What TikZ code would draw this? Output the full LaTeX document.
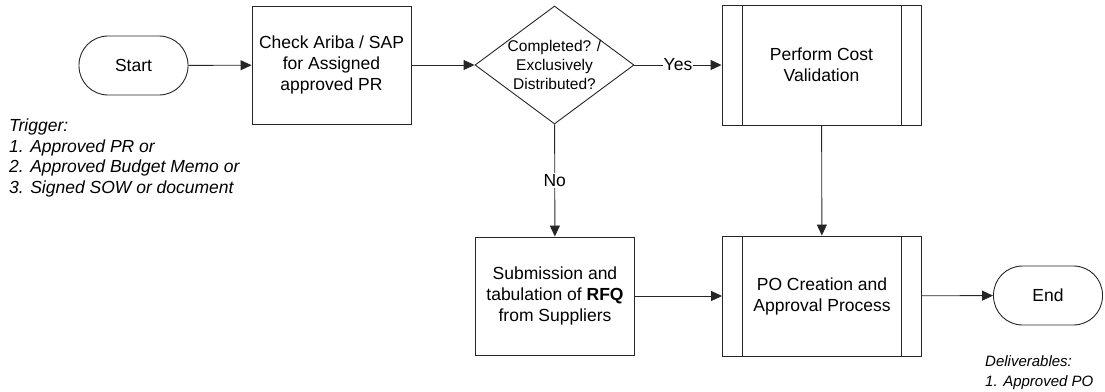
\documentclass[tikz,border=0pt]{standalone}
\usepackage{fontspec}
\setmainfont{Liberation Sans}
\usetikzlibrary{shapes.geometric,arrows.meta}

\begin{document}
\begin{tikzpicture}[x=1pt,y=-1pt,
  line/.style={draw=black!85,line width=0.9pt},
  arr/.style={line,-{Triangle[length=11pt,width=10pt]}},
  txt/.style={font=\fontsize{17.5}{21}\selectfont,align=center,text=black},
  terminal/.style={line,txt,rectangle,rounded corners=29pt,minimum width=109pt,minimum height=59pt,inner sep=0pt},
  procbox/.style={line,txt,rectangle,minimum width=159pt,minimum height=118pt,inner sep=0pt},
  predef/.style={procbox,minimum width=199pt,minimum height=120pt,
    path picture={\draw[black!85,line width=0.9pt]
      ([xshift=20pt]path picture bounding box.north west) -- ([xshift=20pt]path picture bounding box.south west)
      ([xshift=-20pt]path picture bounding box.north east) -- ([xshift=-20pt]path picture bounding box.south east);}},
  decision/.style={line,diamond,minimum width=159pt,minimum height=118pt,inner sep=0pt},
  dectext/.style={font=\fontsize{15.5}{18.7}\selectfont,align=center,text=black,inner sep=0pt},
  lbl/.style={txt,fill=white,inner sep=1pt},
  note/.style={font=\fontsize{17.5}{20.5}\selectfont\itshape,align=left,inner sep=0pt,anchor=north west},
  smallnote/.style={font=\fontsize{15}{20}\selectfont\itshape,align=left,inner sep=0pt,anchor=north west}
]
\useasboundingbox (0,0) rectangle (1105,391);

% process steps
\node[terminal] (start) at (133.5,65.5) {Start};
\node[procbox] (check) at (331.5,65) {Check Ariba / SAP\\for Assigned\\approved PR};
\node[decision,label={[dectext]center:Completed? /\\Exclusively\\Distributed?}] (dec) at (554.5,65) {};
\node[predef] (perf) at (821.5,65) {Perform Cost\\Validation};
\node[procbox] (sub) at (555,296) {Submission and\\tabulation of \textbf{RFQ}\\from Suppliers};
\node[predef] (po) at (822,296) {PO Creation and\\Approval Process};
\node[terminal] (end) at (1048,295.5) {End};

% notes
\node[note] (trig) at (9,119) {Trigger:\\1. Approved PR or\\2. Approved Budget Memo or\\3. Signed SOW or document};
\node[smallnote] (deliv) at (985,355) {Deliverables:\\1. Approved PO};

% connectors
\draw[arr] (start) -- (check);
\draw[arr] (check) -- (dec);
\draw[arr] (dec) -- node[lbl] {Yes} (perf);
\draw[arr] (dec) -- node[lbl] {No} (sub);
\draw[arr] (perf) -- (po);
\draw[arr] (sub) -- (po);
\draw[arr] (po) -- (end);
\end{tikzpicture}
\end{document}
